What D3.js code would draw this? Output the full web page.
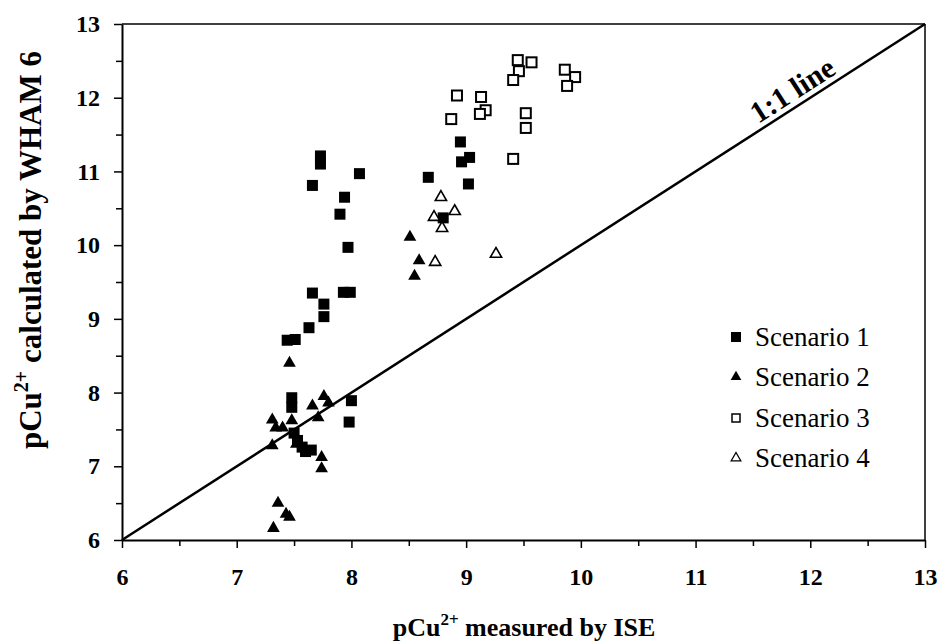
<!DOCTYPE html>
<html><head><meta charset="utf-8">
<script src="https://cdn.jsdelivr.net/npm/d3@7"></script>
<style>body{margin:0;background:#fff;} svg{display:block;} svg text{font-family:"Liberation Serif","Times New Roman",serif !important;}</style>
</head><body>
<svg id="chart" width="940" height="641"></svg>
<script>
const xTicks = [6,7,8,9,10,11,12,13];
const yTicks = [6,7,8,9,10,11,12,13];
const seriesNames = ["Scenario 1","Scenario 2","Scenario 3","Scenario 4"];
const scenario1 = [[7.73,11.21],[7.73,11.10],[8.07,10.97],[7.66,10.81],[7.94,10.65],[7.90,10.42],[7.97,9.97],[7.66,9.35],[7.93,9.36],[7.99,9.36],[7.76,9.20],[7.76,9.03],[7.63,8.88],[7.44,8.71],[7.51,8.72],[7.48,7.93],[7.48,7.80],[8.0,7.89],[7.98,7.60],[7.50,7.45],[7.53,7.35],[7.57,7.26],[7.60,7.20],[7.65,7.22],[8.95,11.40],[9.03,11.19],[8.96,11.13],[8.67,10.92],[9.02,10.83],[8.80,10.37]];
const scenario2 = [[8.51,10.11],[8.59,9.79],[8.55,9.58],[7.46,8.40],[7.76,7.95],[7.66,7.82],[7.80,7.86],[7.71,7.66],[7.31,7.63],[7.34,7.52],[7.40,7.52],[7.48,7.62],[7.31,7.28],[7.52,7.30],[7.74,7.12],[7.74,6.97],[7.36,6.50],[7.43,6.35],[7.46,6.31],[7.32,6.16]];
const scenario3 = [[9.45,12.51],[9.57,12.48],[9.46,12.36],[9.41,12.24],[9.86,12.38],[9.95,12.28],[9.88,12.16],[9.52,11.79],[9.52,11.59],[9.41,11.17],[8.92,12.03],[9.13,12.01],[9.17,11.83],[9.12,11.78],[8.87,11.71]];
const scenario4 = [[8.78,10.65],[8.72,10.38],[8.90,10.46],[8.79,10.23],[8.73,9.77],[9.26,9.88]];
const oneToOne = [[6,6],[13,13]];

const svg = d3.select("#chart");
const L = 122, R = 925, T = 24, B = 540;
const x = d3.scaleLinear().domain([6,13]).range([L,R]);
const y = d3.scaleLinear().domain([6,13]).range([B,T]);
const serif = '"Liberation Serif","Times New Roman",serif';

// frame top/right
svg.append("line").attr("x1",L).attr("x2",R).attr("y1",T).attr("y2",T).attr("stroke","#000").attr("stroke-width",1.5);
svg.append("line").attr("x1",R).attr("x2",R).attr("y1",T).attr("y2",B).attr("stroke","#000").attr("stroke-width",1.5);

// minor ticks
const minor = d3.range(6.5,13,1);
const xMinor = d3.axisBottom(x).tickValues(minor).tickSize(6).tickFormat("");
const yMinor = d3.axisLeft(y).tickValues(minor).tickSize(6).tickFormat("");
svg.append("g").attr("transform",`translate(0,${B})`).call(xMinor).call(g=>g.select(".domain").remove()).selectAll("line").attr("stroke-width",1.5);
svg.append("g").attr("transform",`translate(${L},0)`).call(yMinor).call(g=>g.select(".domain").remove()).selectAll("line").attr("stroke-width",1.5);

const xAxis = d3.axisBottom(x).tickValues(xTicks).tickSize(8).tickSizeOuter(0).tickPadding(20).tickFormat(d3.format("d"));
const yAxis = d3.axisLeft(y).tickValues(yTicks).tickSize(8).tickSizeOuter(0).tickPadding(14).tickFormat(d3.format("d"));
const gx = svg.append("g").attr("transform",`translate(0,${B})`).call(xAxis);
const gy = svg.append("g").attr("transform",`translate(${L},0)`).call(yAxis);
[gx,gy].forEach(g=>{
  g.attr("font-family",serif);
  g.select(".domain").attr("stroke-width",2);
  g.selectAll(".tick line").attr("stroke-width",1.5);
  g.selectAll("text").style("font-family",serif).attr("font-weight","bold").attr("font-size",24).attr("fill","#000");
});

// 1:1 line
svg.append("path").datum(oneToOne)
  .attr("d",d3.line().x(d=>x(d[0])).y(d=>y(d[1])))
  .attr("stroke","#000").attr("stroke-width",2.5).attr("fill","none");
const ang = -Math.atan((y(12)-y(13))/(x(13)-x(12)))*180/Math.PI;
svg.append("text").attr("transform",`translate(${x(11.92)},${y(11.92)}) rotate(${ang})`)
  .attr("text-anchor","middle").attr("dy","-0.2em").style("font-family",serif).attr("font-weight","bold").attr("font-size",30).text("1:1 line");

// markers
const tri = d3.symbol().type(d3.symbolTriangle);
const g = svg.append("g");
g.selectAll(".s1").data(scenario1).join("rect").attr("class","s1")
  .attr("x",d=>x(d[0])-5.5).attr("y",d=>y(d[1])-5.5).attr("width",11).attr("height",11).attr("fill","#000");
g.selectAll(".s3").data(scenario3).join("rect").attr("class","s3")
  .attr("x",d=>x(d[0])-5).attr("y",d=>y(d[1])-5).attr("width",10).attr("height",10).attr("fill","#fff").attr("stroke","#000").attr("stroke-width",2);
g.selectAll(".s2").data(scenario2).join("path").attr("class","s2")
  .attr("transform",d=>`translate(${x(d[0])},${y(d[1])})`).attr("d",tri.size(70)()).attr("fill","#000");
g.selectAll(".s4").data(scenario4).join("path").attr("class","s4")
  .attr("transform",d=>`translate(${x(d[0])},${y(d[1])})`).attr("d",tri.size(55)()).attr("fill","#fff").attr("stroke","#000").attr("stroke-width",1.6);

// legend
const leg = svg.append("g");
const ly = [337,377,418,458];
seriesNames.forEach((n,i)=>{
  const cx = 736, cy = ly[i];
  if(i===0) leg.append("rect").attr("x",cx-5).attr("y",cy-5).attr("width",10).attr("height",10).attr("fill","#000");
  if(i===1) leg.append("path").attr("transform",`translate(${cx},${cy})`).attr("d",d3.symbol().type(d3.symbolTriangle).size(50)()).attr("fill","#000");
  if(i===2) leg.append("rect").attr("x",cx-4).attr("y",cy-4).attr("width",8).attr("height",8).attr("fill","#fff").attr("stroke","#000").attr("stroke-width",1.5);
  if(i===3) leg.append("path").attr("transform",`translate(${cx},${cy})`).attr("d",d3.symbol().type(d3.symbolTriangle).size(40)()).attr("fill","#fff").attr("stroke","#000").attr("stroke-width",1.3);
  leg.append("text").attr("x",755).attr("y",cy).attr("dy","0.35em").style("font-family",serif).attr("font-size",27).text(n);
});

// axis titles
const xt = svg.append("text").attr("x",524).attr("y",636).attr("text-anchor","middle")
  .style("font-family",serif).attr("font-weight","bold").attr("font-size",26);
xt.append("tspan").text("pCu");
xt.append("tspan").attr("font-size",17).attr("dy",-11).text("2+");
xt.append("tspan").attr("dy",11).text(" measured by ISE");

const yt = svg.append("text").attr("transform",`translate(41,250) rotate(-90)`).attr("text-anchor","middle")
  .style("font-family",serif).attr("font-weight","bold").attr("font-size",31);
yt.append("tspan").text("pCu");
yt.append("tspan").attr("font-size",20).attr("dy",-13).text("2+");
yt.append("tspan").attr("dy",13).text(" calculated by WHAM 6");
</script>
</body></html>
